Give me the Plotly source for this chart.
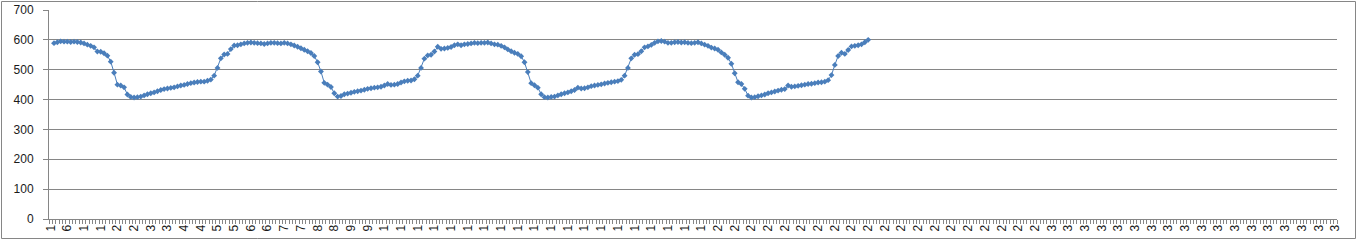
import plotly.graph_objects as go

# Category labels (the axis shows 386 categories; labels every 5th)
categories = [str(n) for n in range(1, 387)]

# Series values (first category is empty; data occupies categories 2..246)
values = [
    589, 592, 595, 594, 594, 593, 594, 593, 591, 588,
    584, 580, 575, 561, 560, 555, 547, 527, 490, 450,
    447, 441, 417, 409, 407, 408, 410, 414, 418, 421,
    424, 428, 432, 435, 437, 439, 441, 444, 447, 449,
    452, 455, 457, 459, 460, 460, 463, 467, 480, 506,
    538, 551, 553, 569, 581, 582, 585, 588, 590, 591,
    590, 589, 588, 586, 588, 590, 590, 589, 588, 590,
    588, 585, 581, 577, 572, 567, 562, 556, 546, 525,
    494, 456, 450, 442, 421, 410, 412, 418, 420, 423,
    426, 428, 430, 433, 436, 438, 440, 441, 443, 447,
    452, 449, 450, 452, 457, 461, 463, 464, 468, 480,
    506, 537, 548, 550, 561, 577, 570, 571, 573, 576,
    582, 585, 582, 585, 586, 588, 590, 589, 590, 590,
    591, 588, 585, 584, 580, 575, 568, 562, 557, 553,
    545, 525, 492, 455, 448, 440, 418, 408, 407, 409,
    410, 414, 418, 421, 424, 428, 432, 440, 437, 438,
    441, 445, 447, 449, 451, 454, 456, 458, 460, 462,
    466, 480, 506, 538, 550, 552, 562, 575, 578, 583,
    590, 595, 596, 594, 590, 590, 592, 593, 591, 592,
    590, 589, 590, 592, 588, 584, 580, 574, 571, 567,
    558, 550, 540, 520, 488, 458, 452, 436, 413, 407,
    408, 411, 414, 417, 421, 424, 427, 430, 433, 435,
    447, 443, 444, 446, 448, 450, 452, 453, 455, 457,
    458, 460, 465, 482, 516, 546, 557, 553, 566, 578,
    580, 582, 585, 592, 600,
]

y_ticks = [0, 100, 200, 300, 400, 500, 600, 700]

first_cat = 1  # data starts at the second category
x_pos = list(range(first_cat, first_cat + len(values)))
label_pos = list(range(0, len(categories), 5))
label_text = [categories[i][0] for i in label_pos]  # labels are clipped to one character

GRID = "#868686"
BLUE = "#4A7EBB"
FONT = "Liberation Sans, Arial, sans-serif"

fig = go.Figure()
fig.add_trace(go.Scatter(
    x=x_pos, y=values, mode="lines+markers",
    line=dict(color=BLUE, width=1),
    marker=dict(symbol="diamond", size=4.5, color=BLUE),
    hoverinfo="skip", showlegend=False,
))

W, H = 1357, 240
L, R, T, B = 49, 20, 10, 21
pw, ph = W - L - R, H - T - B

fig.update_layout(
    width=W, height=H,
    margin=dict(l=L, r=R, t=T, b=B, pad=0),
    paper_bgcolor="white", plot_bgcolor="white",
    font=dict(family=FONT, size=12, color="#1a1a1a"),
    xaxis=dict(
        range=[-0.5, len(categories) - 0.5],
        tickmode="array", tickvals=label_pos, ticktext=label_text,
        tickangle=-90, ticks="", showgrid=False, zeroline=False,
        showline=True, linecolor=GRID, linewidth=1,
        tickfont=dict(size=12, family=FONT),
        minor=dict(ticks="outside", ticklen=4, tickcolor=GRID, tickwidth=1,
                   tickmode="linear", tick0=0.5, dtick=1, showgrid=False),
        automargin=False, fixedrange=True,
    ),
    yaxis=dict(
        range=[0, 700], tickmode="array", tickvals=y_ticks,
        ticks="outside", ticklen=5, tickcolor=GRID, tickwidth=1,
        showgrid=True, gridcolor=GRID, gridwidth=1, zeroline=False,
        showline=True, linecolor=GRID, linewidth=1,
        tickfont=dict(size=12, family=FONT), ticklabelstandoff=7,
        automargin=False, fixedrange=True,
    ),
)

# chart-area border (like the Excel chart frame)
fig.add_shape(
    type="rect", xref="paper", yref="paper", layer="above",
    x0=(1.5 - L) / pw, x1=(1355.5 - L) / pw,
    y0=(H - B - 238.5) / ph, y1=(H - B - 1.5) / ph,
    line=dict(color=GRID, width=1), fillcolor="rgba(0,0,0,0)",
)

fig.write_html("out.html", config={"displayModeBar": False})
